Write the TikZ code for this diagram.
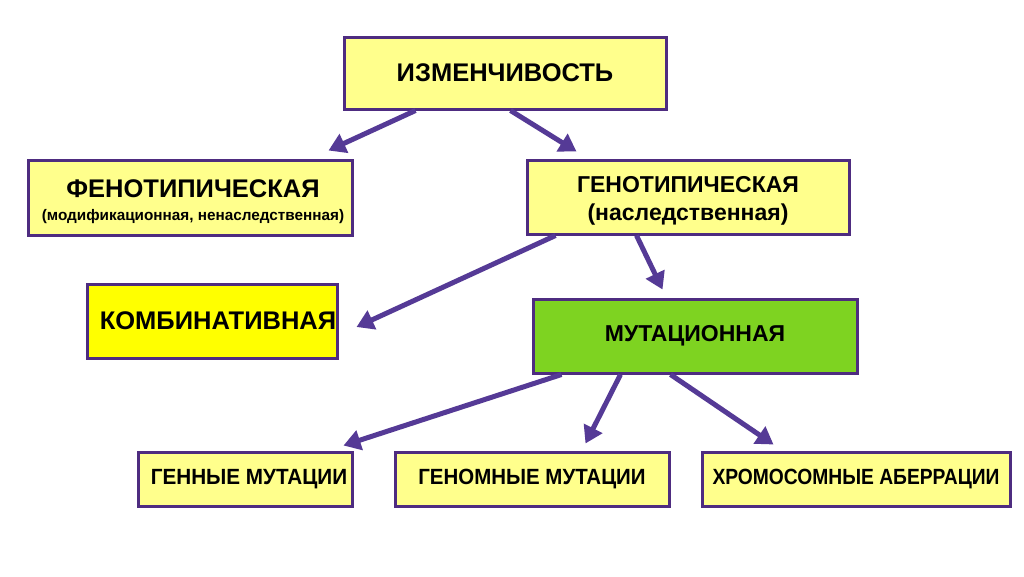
\documentclass[tikz,border=0pt]{standalone}
\usepackage{fontspec}
\setmainfont{Liberation Sans}
\usetikzlibrary{arrows.meta}
\definecolor{bord}{HTML}{4E2C80}
\definecolor{arrc}{HTML}{553A96}
\definecolor{lyel}{HTML}{FFFF8C}
\definecolor{byel}{HTML}{FFFF00}
\definecolor{grn}{HTML}{7ED321}
\tikzset{
  box/.style={draw=bord, line width=3pt, fill=lyel, inner sep=0pt, align=center, font=\bfseries},
  txt/.style={inner sep=0pt, align=center},
  arr/.style={draw=arrc, line width=5pt, -{Triangle[length=17pt,width=20pt]}},
}
\newcommand{\fs}[1]{\fontsize{#1}{#1}\selectfont}
\begin{document}
\begin{tikzpicture}[x=1pt,y=-1pt]
\fill[white] (0,0) rectangle (1024,576);
\useasboundingbox (0,0) rectangle (1024,576);

\node[box, minimum width=322pt, minimum height=72pt] (top) at (505,73) {\fs{25.5}ИЗМЕНЧИВОСТЬ};
\node[box, minimum width=324pt, minimum height=75pt,
  label={[txt, font=\bfseries\fontsize{15.3}{23}\selectfont, xshift=3pt, yshift=-4pt]center:{{\fontsize{25.5}{23}\selectfont ФЕНОТИПИЧЕСКАЯ}\\(модификационная, ненаследственная)}}]
  (fen) at (190,197.5) {};
\node[box, minimum width=322pt, minimum height=74pt,
  label={[txt, font=\bfseries\fontsize{23}{28.5}\selectfont, yshift=-4pt]center:{ГЕНОТИПИЧЕСКАЯ\\(наследственная)}}]
  (gen) at (688,197) {};
\node[box, fill=byel, minimum width=250pt, minimum height=74pt] (komb) at (212,321) {\fs{25.5}\hspace*{12pt}КОМБИНАТИВНАЯ};
\node[box, fill=grn, minimum width=324pt, minimum height=74pt] (mut) at (695,336) {\fs{23}МУТАЦИОННАЯ};
\node[box, minimum width=214pt, minimum height=54pt] (genn) at (245,479) {\fs{22}\hspace*{8pt}\scalebox{0.94}[1]{ГЕННЫЕ МУТАЦИИ}};
\node[box, minimum width=274pt, minimum height=54pt] (genom) at (532,479) {\fs{22}\scalebox{0.93}[1]{ГЕНОМНЫЕ МУТАЦИИ}};
\node[box, minimum width=308pt, minimum height=54pt] (chrom) at (856,479) {\fs{22}\scalebox{0.875}[1]{ХРОМОСОМНЫЕ АБЕРРАЦИИ}};

\draw[arr] ([xshift=73pt]top.south west) -- ([xshift=302pt,yshift=8pt]fen.north west);
\draw[arr] ([xshift=168pt]top.south west) -- ([xshift=51pt,yshift=7pt]gen.north west);
\draw[arr] ([xshift=30pt]gen.south west) -- ([xshift=18pt,yshift=-6pt]komb.east);
\draw[arr] ([xshift=111pt]gen.south west) -- ([xshift=131pt,yshift=8pt]mut.north west);
\draw[arr] ([xshift=30pt]mut.south west) -- ([xshift=207pt,yshift=5pt]genn.north west);
\draw[arr] ([xshift=89pt]mut.south west) -- ([xshift=192pt,yshift=7pt]genom.north west);
\draw[arr] ([xshift=139pt]mut.south west) -- ([xshift=73pt,yshift=6pt]chrom.north west);
\end{tikzpicture}
\end{document}
